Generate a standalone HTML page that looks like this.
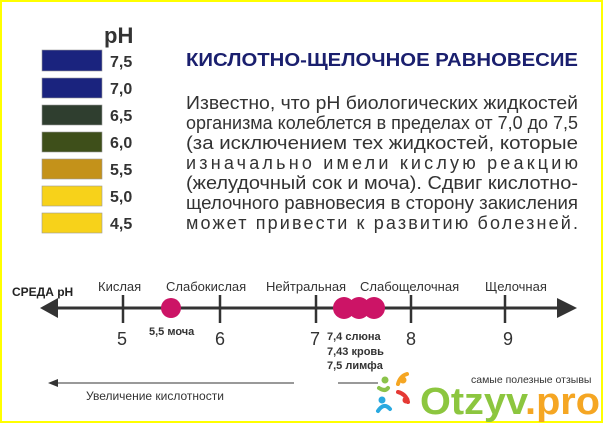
<!DOCTYPE html>
<html><head><meta charset="utf-8"><style>
html,body{margin:0;padding:0;background:#fff}
svg{display:block}
text{font-family:"Liberation Sans","DejaVu Sans",sans-serif}
</style></head><body>
<svg width="603" height="423" viewBox="0 0 603 423" xmlns="http://www.w3.org/2000/svg">
<rect x="1" y="1" width="601" height="421" fill="#fff" stroke="#ffff00" stroke-width="2"/>
<!-- legend -->
<text x="104" y="43" font-size="22" font-weight="bold" fill="#333">pH</text>
<g stroke="#999" stroke-width="0.6">
<rect x="42" y="50" width="60" height="21" fill="#1a237e"/>
<rect x="42" y="78" width="60" height="20" fill="#1a237e"/>
<rect x="42" y="105" width="60" height="20" fill="#2f3e2f"/>
<rect x="42" y="132" width="60" height="20" fill="#3e4f1a"/>
<rect x="42" y="159" width="60" height="20" fill="#c4921a"/>
<rect x="42" y="186" width="60" height="20" fill="#f7d21a"/>
<rect x="42" y="213" width="60" height="20" fill="#f7d21a"/>
</g>
<g font-size="16" font-weight="bold" fill="#333">
<text x="110" y="67">7,5</text><text x="110" y="94">7,0</text><text x="110" y="121">6,5</text>
<text x="110" y="148">6,0</text><text x="110" y="175">5,5</text><text x="110" y="202">5,0</text><text x="110" y="229">4,5</text>
</g>
<text x="186" y="66" font-size="18" font-weight="bold" fill="#1a1f6e" textLength="392" lengthAdjust="spacingAndGlyphs">КИСЛОТНО-ЩЕЛОЧНОЕ РАВНОВЕСИЕ</text>
<g font-size="18" fill="#333">
<text x="186" y="109" textLength="392" lengthAdjust="spacingAndGlyphs">Известно, что  pH биологических жидкостей</text>
<text x="186" y="129" textLength="392" lengthAdjust="spacingAndGlyphs">организма колеблется в пределах от 7,0 до 7,5</text>
<text x="186" y="149" textLength="392" lengthAdjust="spacingAndGlyphs">(за  исключением  тех  жидкостей,  которые</text>
<text x="186" y="169" textLength="392" lengthAdjust="spacing">изначально  имели  кислую  реакцию</text>
<text x="186" y="189" textLength="392" lengthAdjust="spacingAndGlyphs">(желудочный  сок  и  моча).  Сдвиг   кислотно-</text>
<text x="186" y="209" textLength="392" lengthAdjust="spacingAndGlyphs">щелочного  равновесия  в  сторону  закисления</text>
<text x="186" y="229" textLength="392" lengthAdjust="spacing">может  привести  к  развитию  болезней.</text>
</g>
<!-- axis -->
<text x="12" y="296" font-size="12" font-weight="bold" fill="#222">СРЕДА  pH</text>
<line x1="52" y1="308" x2="558" y2="308" stroke="#333" stroke-width="3"/>
<polygon points="40,308 58,298 58,318" fill="#333"/>
<polygon points="577,308 557,298 557,318" fill="#333"/>
<g stroke="#333" stroke-width="2.5">
<line x1="123" y1="295" x2="123" y2="323"/><line x1="220" y1="295" x2="220" y2="323"/>
<line x1="316" y1="295" x2="316" y2="323"/><line x1="411" y1="295" x2="411" y2="323"/>
<line x1="505" y1="295" x2="505" y2="323"/>
</g>
<g font-size="13" fill="#333">
<text x="98" y="291">Кислая</text><text x="166" y="291">Слабокислая</text>
<text x="266" y="291">Нейтральная</text><text x="360" y="291">Слабощелочная</text>
<text x="485" y="291">Щелочная</text>
</g>
<g font-size="18" fill="#333" text-anchor="middle">
<text x="122" y="345">5</text><text x="220" y="345">6</text><text x="315" y="345">7</text>
<text x="411" y="345">8</text><text x="508" y="345">9</text>
</g>
<g fill="#cc1466">
<circle cx="171" cy="308" r="10"/><circle cx="344" cy="308" r="11"/>
<circle cx="359" cy="308" r="11"/><circle cx="374" cy="308" r="11"/>
</g>
<g font-size="11" font-weight="bold" fill="#333">
<text x="149" y="335">5,5 моча</text>
<text x="327" y="340">7,4  слюна</text><text x="327" y="355">7,43 кровь</text><text x="327" y="369">7,5 лимфа</text>
</g>
<line x1="58" y1="383" x2="294" y2="383" stroke="#333" stroke-width="1"/>
<polygon points="48,383 58,379 58,387" fill="#333"/>
<text x="86" y="400" font-size="12" fill="#333">Увеличение кислотности</text>
<line x1="338" y1="383" x2="378" y2="383" stroke="#333" stroke-width="1"/>
<!-- watermark -->
<g stroke-width="4" fill="none" stroke-linecap="round">
<circle cx="385" cy="380" r="3.5" fill="#8bc34a" stroke="none"/>
<circle cx="403" cy="380" r="3.5" fill="#f5a623" stroke="none"/>
<circle cx="382" cy="400" r="3.5" fill="#29a9e0" stroke="none"/>
<circle cx="406" cy="400" r="3.5" fill="#e53935" stroke="none"/>
<path d="M379 388 q6 4 9 0" stroke="#8bc34a"/>
<path d="M398 384 q2 -8 9 -10" stroke="#f5a623"/>
<path d="M378 411 q6 -9 12 -2" stroke="#29a9e0"/>
<path d="M398 392 q8 2 10 10" stroke="#e53935"/>
</g>
<text x="471" y="383" font-size="10.5" fill="#333">самые полезные отзывы</text>
<text x="420" y="414" font-size="38" font-weight="bold" fill="#8cc63f" textLength="180" lengthAdjust="spacingAndGlyphs">Otzyv<tspan fill="#f5a623">.pro</tspan></text>
</svg>
</body></html>
